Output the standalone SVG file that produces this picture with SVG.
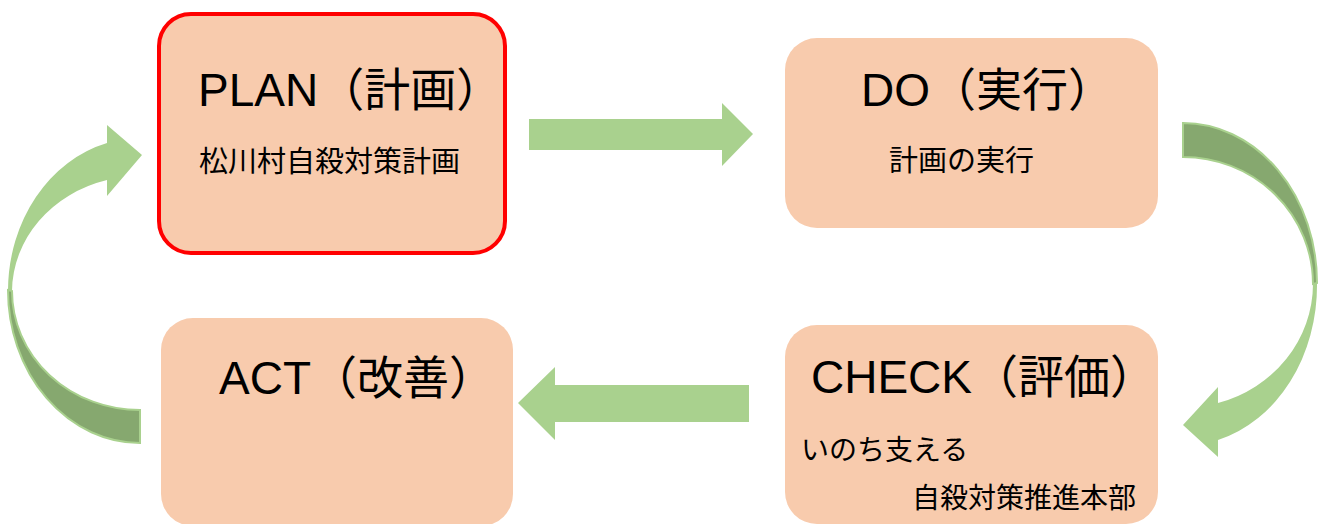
<svg xmlns="http://www.w3.org/2000/svg" width="1318" height="524" viewBox="0 0 1318 524">
<style>
.box{fill:#F8CBAD;}
.plan{stroke:#FF0000;stroke-width:4;}
.title{font-family:"Liberation Sans","Noto Sans CJK JP",sans-serif;font-size:46px;fill:#000;}
.sub{font-family:"Noto Sans CJK JP",sans-serif;font-size:29px;fill:#000;}
.sub2{font-family:"Noto Sans CJK JP",sans-serif;font-size:28px;fill:#000;}
.lg{fill:#A9D18E;}
.dg{fill:#86A86F;stroke:#A9D18E;stroke-width:2;}
</style>
<rect width="1318" height="524" fill="#FFFFFF"/>
<g id="connectors">
  <path id="arrow-plan-do" class="lg" d="M529,119 H722 V103 L753,134 L722,166 V150 H529 Z"/>
  <path id="arrow-check-act" class="lg" d="M749,385 H555 V367 L518,403 L555,440 V422 H749 Z"/>
  <g id="arrow-do-check">
    <path class="dg" d="M1183,123 A134 160 0 0 1 1317,283 L1313,284 A130 127 0 0 0 1183,157 Z"/>
    <path class="lg" d="M1317,283 A134 160 0 0 1 1218,440 V457 L1183,425 L1218,387 V403 A130 124 0 0 0 1313,284 Z"/>
  </g>
  <g id="arrow-act-plan">
    <path class="dg" d="M8,290 A132 153 0 0 0 140,443 V410 A128 119 0 0 1 12,291 Z"/>
    <path class="lg" d="M8,290 A132 153 0 0 1 107,143 V125 L142,155 L107,196 V180 A128 116 0 0 0 12,291 Z"/>
  </g>
</g>
<g id="node-plan">
  <rect class="box plan" x="159" y="14" width="346" height="239" rx="32"/>
  <text class="title" x="198" y="106">PLAN（計画）</text>
  <text class="sub" x="199" y="172">松川村自殺対策計画</text>
</g>
<g id="node-do">
  <rect class="box" x="785" y="38" width="373" height="190" rx="32"/>
  <text class="title" x="861" y="106">DO（実行）</text>
  <text class="sub" x="889" y="171">計画の実行</text>
</g>
<g id="node-act">
  <rect class="box" x="161" y="318" width="352" height="208" rx="32"/>
  <text class="title" x="219" y="394">ACT（改善）</text>
</g>
<g id="node-check">
  <rect class="box" x="785" y="325" width="373" height="199" rx="32"/>
  <text class="title" x="811" y="393">CHECK（評価）</text>
  <text class="sub2" x="801" y="460">いのち支える</text>
  <text class="sub2" x="912" y="508">自殺対策推進本部</text>
</g>
</svg>
